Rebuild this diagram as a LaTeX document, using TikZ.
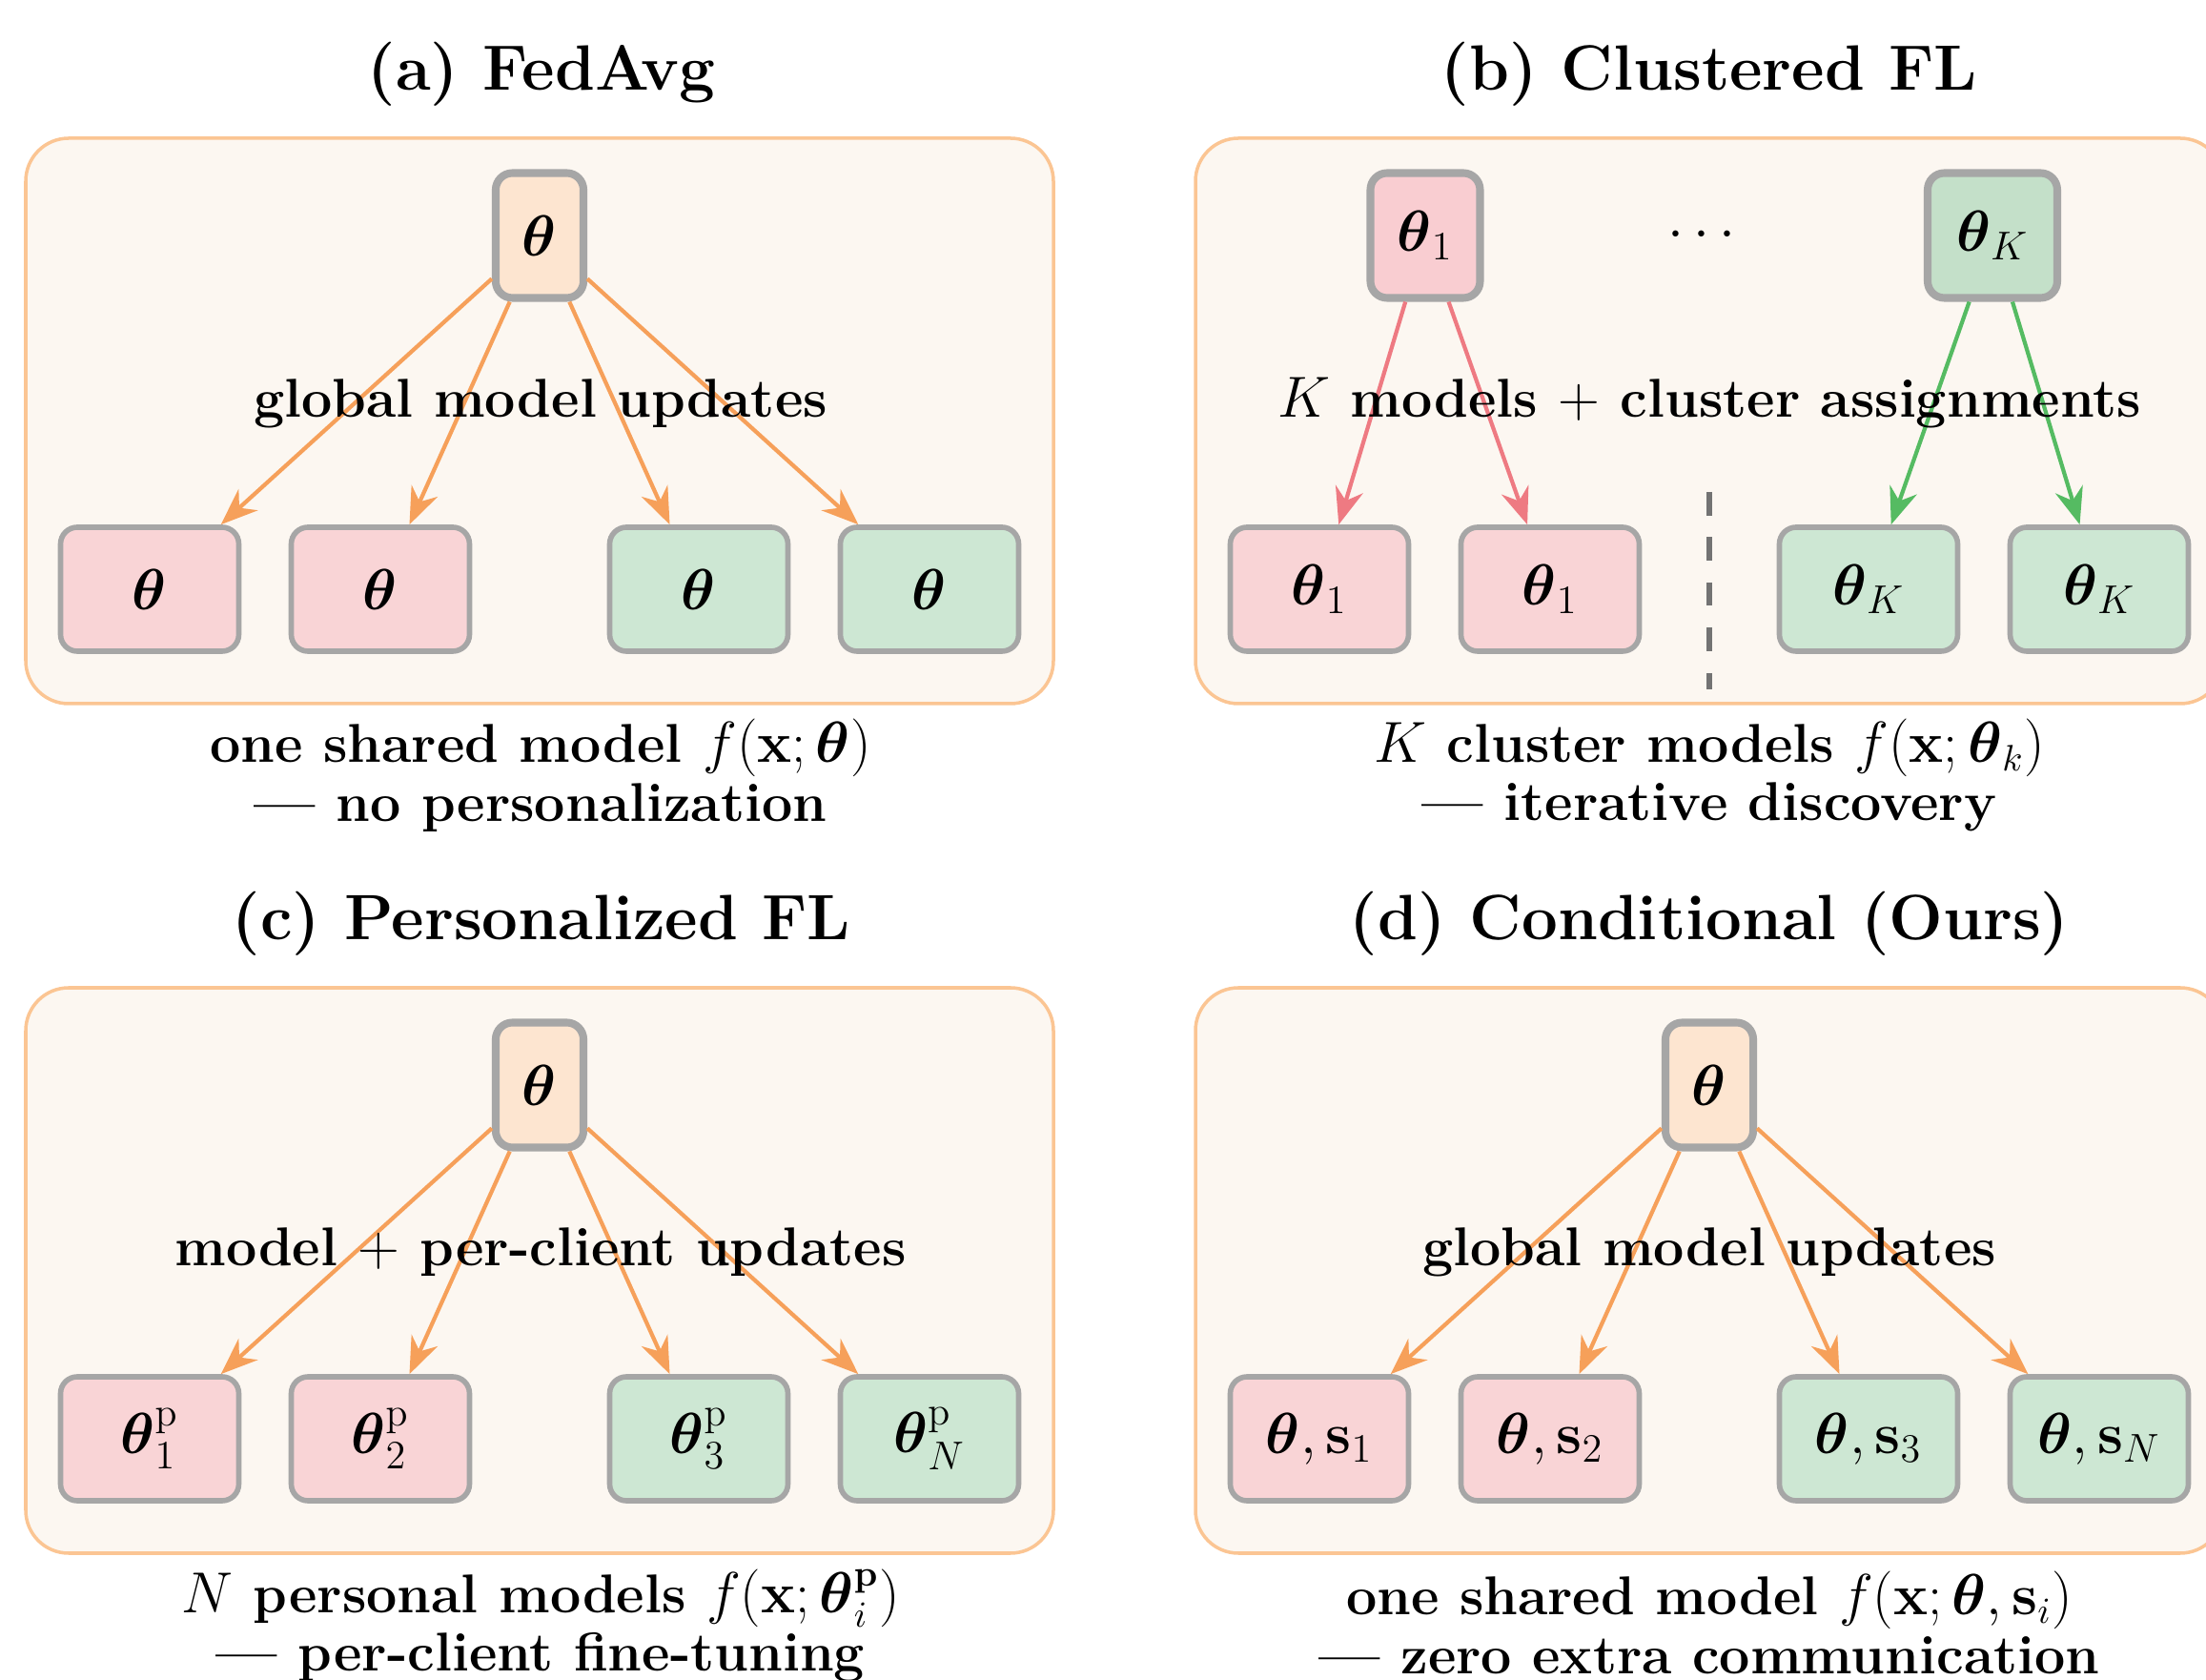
\documentclass[tikz,border=0pt]{standalone}
\usepackage{amsmath}
\usepackage{amssymb}
\usepackage{tikz}
\usetikzlibrary{arrows.meta,positioning}

\definecolor{panelbg}{HTML}{FCF7F1}
\definecolor{panelline}{HTML}{FBC593}
\definecolor{nodeline}{HTML}{A6A6A6}
\definecolor{serverfill}{HTML}{FDE5D0}
\definecolor{redfill}{HTML}{F9D4D6}
\definecolor{greenfill}{HTML}{CDE7D3}
\definecolor{redtop}{HTML}{F9CDD1}
\definecolor{greentop}{HTML}{C4E0C9}
\definecolor{orangearrow}{HTML}{F6A05A}
\definecolor{redarrow}{HTML}{EE7A82}
\definecolor{greenarrow}{HTML}{55BB62}

\newcommand{\headfnt}{\fontsize{19.1}{22}\selectfont\bfseries}
\newcommand{\bodyfnt}{\fontsize{16.3}{17.6}\selectfont\bfseries}
\newcommand{\boxfnt}{\fontsize{17}{19}\selectfont\bfseries}

\tikzstyle{panel} = [draw=panelline, fill=panelbg, line width=1pt, rounded corners=0.45cm]
\tikzstyle{server} = [rectangle, draw=nodeline, fill=serverfill, line width=2.3pt,
    rounded corners=5pt, minimum width=0.9cm, minimum height=1.31cm, inner xsep=0.28cm, font=\boxfnt]
\tikzstyle{client} = [rectangle, draw=nodeline, line width=1.6pt,
    rounded corners=5pt, minimum width=1.87cm, minimum height=1.30cm, font=\boxfnt]
\tikzstyle{line} = [draw, line width=1.2pt, color=orangearrow, -{Stealth[length=11pt,width=8.5pt]}]
\tikzstyle{heading} = [font=\headfnt]
\tikzstyle{remark} = [font=\bodyfnt, align=center]
\def\tht{\boldsymbol{\theta}}

\begin{document}
\begin{tikzpicture}[node distance = 2.42cm]
  \useasboundingbox (0,0) rectangle (23.14,-17.62);

  % ---------- (a) FedAvg
  \draw [panel] (0.27,-1.45) rectangle (11.05,-7.38);
  \node [heading] (ta) at (5.68,-0.78) {(a) FedAvg};
  \node [server] (a0) at (5.66,-2.47) {$\tht$};
  \node [client, fill=redfill] (a1) at (1.57,-6.18) {$\tht$};
  \node [client, fill=redfill, right of=a1] (a2) {$\tht$};
  \node [client, fill=greenfill, right of=a2, node distance=3.34cm] (a3) {$\tht$};
  \node [client, fill=greenfill, right of=a3] (a4) {$\tht$};
  \path [line] (a0) -- (a1);
  \path [line] (a0) -- (a2);
  \path [line] (a0) -- (a3);
  \path [line] (a0) -- (a4);
  \node [remark] (la) at (5.67,-4.23) {global model updates};
  \node [remark] (ca) at (5.67,-8.13) {one shared model $f(\mathbf{x};\tht)$\\--- no personalization};

  % ---------- (b) Clustered FL
  \draw [panel] (12.54,-1.45) rectangle (23.32,-7.38);
  \node [heading] (tb) at (17.93,-0.78) {(b) Clustered FL};
  \node [server, fill=redtop, minimum width=1.15cm] (b0) at (14.95,-2.47) {$\tht_1$};
  \node [server, fill=greentop, minimum width=1.36cm] (bk) at (20.90,-2.47) {$\tht_K$};
  \node [font=\bodyfnt] (dots) at (17.90,-2.47) {$\cdots$};
  \node [client, fill=redfill] (b1) at (13.84,-6.18) {$\tht_1$};
  \node [client, fill=redfill, right of=b1] (b2) {$\tht_1$};
  \node [client, fill=greenfill, right of=b2, node distance=3.34cm] (b3) {$\tht_K$};
  \node [client, fill=greenfill, right of=b3] (b4) {$\tht_K$};
  \coordinate (sepTop) at (17.93,-5.16);
  \coordinate (sepBot) at (17.93,-7.23);
  \draw [color=black!55, line width=1.6pt, dash pattern=on 7pt off 6.5pt] (sepTop) -- (sepBot);
  \path [line, color=redarrow] (b0) -- (b1);
  \path [line, color=redarrow] (b0) -- (b2);
  \path [line, color=greenarrow] (bk) -- (b3);
  \path [line, color=greenarrow] (bk) -- (b4);
  \node [remark] (lb) at (17.93,-4.23) {$K$ models $+$ cluster assignments};
  \node [remark] (cb) at (17.93,-8.13) {$K$ cluster models $f(\mathbf{x};\tht_k)$\\--- iterative discovery};

  % ---------- (c) Personalized FL
  \draw [panel] (0.27,-10.36) rectangle (11.05,-16.29);
  \node [heading] (tc) at (5.68,-9.69) {(c) Personalized FL};
  \node [server] (c0) at (5.66,-11.38) {$\tht$};
  \node [client, fill=redfill] (c1) at (1.57,-15.09) {$\tht^{\mathrm{p}}_1$};
  \node [client, fill=redfill, right of=c1] (c2) {$\tht^{\mathrm{p}}_2$};
  \node [client, fill=greenfill, right of=c2, node distance=3.34cm] (c3) {$\tht^{\mathrm{p}}_3$};
  \node [client, fill=greenfill, right of=c3] (c4) {$\tht^{\mathrm{p}}_N$};
  \path [line] (c0) -- (c1);
  \path [line] (c0) -- (c2);
  \path [line] (c0) -- (c3);
  \path [line] (c0) -- (c4);
  \node [remark] (lc) at (5.67,-13.13) {model $+$ per-client updates};
  \node [remark] (cc) at (5.67,-17.05) {$N$ personal models $f(\mathbf{x};\tht^{\mathbf{p}}_i)$\\--- per-client fine-tuning};

  % ---------- (d) Conditional (Ours)
  \draw [panel] (12.54,-10.36) rectangle (23.32,-16.29);
  \node [heading] (td) at (17.93,-9.69) {(d) Conditional (Ours)};
  \node [server] (d0) at (17.93,-11.38) {$\tht$};
  \node [client, fill=redfill] (d1) at (13.84,-15.09) {$\tht,\mathbf{s}_1$};
  \node [client, fill=redfill, right of=d1] (d2) {$\tht,\mathbf{s}_2$};
  \node [client, fill=greenfill, right of=d2, node distance=3.34cm] (d3) {$\tht,\mathbf{s}_3$};
  \node [client, fill=greenfill, right of=d3] (d4) {$\tht,\mathbf{s}_N$};
  \path [line] (d0) -- (d1);
  \path [line] (d0) -- (d2);
  \path [line] (d0) -- (d3);
  \path [line] (d0) -- (d4);
  \node [remark] (ld) at (17.93,-13.13) {global model updates};
  \node [remark] (cd) at (17.93,-17.02) {one shared model $f(\mathbf{x};\tht,\mathbf{s}_i)$\\--- zero extra communication};

\end{tikzpicture}
\end{document}
